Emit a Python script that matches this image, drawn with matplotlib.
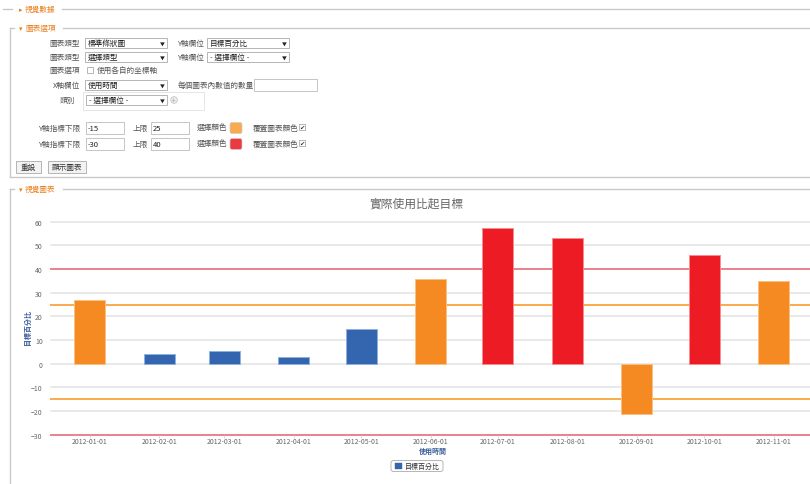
import matplotlib
matplotlib.use("Agg")

import matplotlib.dates as mdates
import matplotlib.pyplot as plt
import numpy as np
from matplotlib.patches import Rectangle, FancyBboxPatch

plt.rcParams["font.family"] = ["Noto Sans CJK TC", "DejaVu Sans"]

# chart data
dates = ["2012-01-01", "2012-02-01", "2012-03-01", "2012-04-01", "2012-05-01",
         "2012-06-01", "2012-07-01", "2012-08-01", "2012-09-01", "2012-10-01",
         "2012-11-01"]
values = [27.0, 4.0, 5.5, 3.0, 14.6, 35.9, 57.3, 53.1, -21.4, 45.9, 34.9]
orange_band = (-15, 25)
red_band = (-30, 40)
y_ticks = [-30, -20, -10, 0, 10, 20, 30, 40, 50, 60]

title = "實際使用比起目標"
series_name = "目標百分比"
x_title = "使用時間"

W, H = 810, 485
BLUE = "#3466b0"
ORANGE = "#f58a22"
RED = "#ed1c24"
ORANGE_LINE = "#f9aa4c"
RED_LINE = "#e8848c"
LABEL = "#555555"
BORDER = "#c9c9c9"
HEAD = "#e8801e"

fig = plt.figure(figsize=(W / 100, H / 100), dpi=100)

# page background drawn in pixel coordinates
bg = fig.add_axes([0, 0, 1, 1])
bg.set_xlim(0, W)
bg.set_ylim(H, 0)
bg.axis("off")


def txt(x, y, s, size=5.5, color=LABEL, ha="left", **kw):
    bg.text(x, y, s, fontsize=size, color=color, ha=ha, va="center", **kw)


def box(x0, x1, y0, y1, face="white", edge="#aaaaaa", lw=0.6):
    bg.add_patch(Rectangle((x0, y0), x1 - x0, y1 - y0, facecolor=face,
                           edgecolor=edge, linewidth=lw))


def select(x0, x1, yc, s):
    box(x0, x1, yc - 5, yc + 5)
    txt(x0 + 3, yc, s, color="#222222")
    txt(x1 - 5, yc, "▼", size=3.5, color="#222222", ha="center")


def checkbox(x, yc, checked=False):
    box(x - 3, x + 3, yc - 3, yc + 3, edge="#999999", lw=0.5)
    if checked:
        txt(x, yc - 0.5, "✔", size=4.5, color="#333333", ha="center")


# fieldset: 視覺數據 (collapsed)
bg.plot([3, 12], [10, 10], color=BORDER, lw=1)
txt(19, 10, "▸", size=5, color=HEAD)
txt(25, 10, "視覺數據", color=HEAD)
bg.plot([62, W], [10, 10], color=BORDER, lw=1)

# fieldset: 圖表選項
bg.plot([10, 14], [29, 29], color=BORDER, lw=1)
bg.plot([10, 10], [29, 178], color=BORDER, lw=1)
bg.plot([10, W], [178, 178], color=BORDER, lw=1)
txt(19, 29, "▾", size=5, color=HEAD)
txt(25, 29, "圖表選項", color=HEAD)
bg.plot([63, W], [29, 29], color=BORDER, lw=1)

txt(80, 44, "圖表類型", ha="right")
select(85, 167, 44, "標準條狀圖")
txt(204, 44, "Y軸欄位", ha="right")
select(207, 289, 44, "目標百分比")

txt(80, 58, "圖表類型", ha="right")
select(85, 167, 58, "選擇類型")
txt(204, 58, "Y軸欄位", ha="right")
select(207, 289, 58, "- 選擇欄位 -")

txt(80, 71, "圖表選項", ha="right")
checkbox(90, 71)
txt(97, 71, "使用各自的坐標軸")

txt(80, 86, "X軸欄位", ha="right")
select(85, 167, 86, "使用時間")
txt(178, 86, "每個圖表內數值的數量")
box(254, 317, 80, 92, edge="#bbbbbb")

box(83, 204, 93, 111, edge="#e2e2e2", lw=0.6)
txt(75, 101, "類別", ha="right")
select(86, 167, 101, "- 選擇欄位 -")
bg.add_patch(plt.Circle((174, 101), 3.3, facecolor="#eeeeee",
                        edgecolor="#bbbbbb", lw=0.5))
txt(174, 101, "+", size=4.5, color="#999999", ha="center")

for yc, lo, hi, swatch in [(129, "-15", "25", ORANGE_LINE), (145, "-30", "40", "#ea3a3f")]:
    txt(80, yc, "Y軸指標下限", ha="right")
    box(86, 124, yc - 6, yc + 6, edge="#bbbbbb")
    txt(88, yc, lo, color="#222222")
    txt(133, yc, "上限")
    box(151, 189, yc - 6, yc + 6, edge="#bbbbbb")
    txt(153, yc, hi, color="#222222")
    txt(197, yc, "選擇顏色")
    bg.add_patch(FancyBboxPatch((230, yc - 5.5), 12, 11, boxstyle="round,pad=0,rounding_size=2",
                                facecolor=swatch, edgecolor="#cccccc", lw=0.5))
    txt(253, yc, "覆蓋圖表顏色")
    checkbox(302, yc - 1, checked=True)

for x0, x1, s in [(16, 41, "重設"), (48, 86, "顯示圖表")]:
    box(x0, x1, 162, 174, face="#f3f3f3", edge="#aaaaaa")
    txt((x0 + x1) / 2, 168, s, ha="center", color="#333333")

# fieldset: 視覺圖表
bg.plot([10, 14], [190, 190], color=BORDER, lw=1)
bg.plot([10, 10], [190, H], color=BORDER, lw=1)
txt(19, 190, "▾", size=5, color=HEAD)
txt(25, 190, "視覺圖表", color=HEAD)
bg.plot([63, W], [190, 190], color=BORDER, lw=1)

# chart
x = mdates.datestr2num(dates)
px_per_day = 2.243
left_px, right_px, top_px, bot_px = 51, 815, 222.7, 435.7
ax = fig.add_axes([left_px / W, 1 - bot_px / H, (right_px - left_px) / W,
                   (bot_px - top_px) / H])
ax.patch.set_alpha(0)
ax.set_xlim(x[0] - (89.7 - left_px) / px_per_day, x[0] + (right_px - 89.7) / px_per_day)
ax.set_ylim(y_ticks[0], y_ticks[-1])

for v in y_ticks:
    ax.axhline(v, color="#e3e3e3", lw=1.1, zorder=0, clip_on=False)
for band, c in [(orange_band, ORANGE_LINE), (red_band, RED_LINE)]:
    for v in band:
        ax.axhline(v, color=c, lw=1.4, zorder=1, clip_on=False)

vals = np.array(values)
colors = []
for v in vals:
    if v > red_band[1] or v < red_band[0]:
        colors.append(RED)
    elif v > orange_band[1] or v < orange_band[0]:
        colors.append(ORANGE)
    else:
        colors.append(BLUE)
edges = {RED: "#f58c90", ORANGE: "#fbc083", BLUE: "#8fb0e0"}
ax.bar(x, vals, width=31 / px_per_day, color=colors,
       edgecolor=[edges[c] for c in colors], linewidth=0.7, zorder=2)

for s in ax.spines.values():
    s.set_visible(False)
ax.set_yticks(y_ticks)
ax.set_xticks(x)
ax.set_xticklabels(dates)
ax.tick_params(axis="y", length=0, pad=6, labelsize=5, labelcolor="#666666")
ax.tick_params(axis="x", length=2, width=0.5, color="#c0d0e0", pad=0,
               labelsize=5, labelcolor="#666666")

# titles and legend in page pixels
txt(416, 204, title, size=8.5, color="#666666", ha="center")
txt(27, 328, series_name, size=5, color="#3b5f9a", ha="center", rotation=90,
    fontweight="bold")
txt(433, 451, x_title, size=5, color="#3b5f9a", ha="center", fontweight="bold")
bg.add_patch(FancyBboxPatch((391, 461.5), 52, 11, boxstyle="round,pad=0,rounding_size=2.5",
                            facecolor="white", edgecolor="#aaaaaa", lw=0.6))
box(395, 402, 464, 470, face=BLUE, edge=BLUE, lw=0.3)
txt(405, 467, series_name, size=5, color="#333333")

fig.savefig("out.png", dpi=100)
